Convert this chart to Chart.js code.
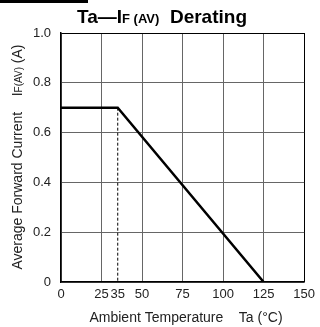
<!DOCTYPE html>
<html lang="en">
<head>
  <meta charset="UTF-8">
  <title>Ta-IF(AV) Derating</title>
  <script src="https://cdn.jsdelivr.net/npm/chart.js"></script>
  <style>
    html, body { margin: 0; padding: 0; background: #fff; }
    #wrap { width: 320px; height: 327px; position: relative; }
  </style>
</head>
<body>
  <div id="wrap"><canvas id="derating"></canvas></div>
  <script>
    // tick positions
    const xTicks = [0, 25, 35, 50, 75, 100, 125, 150];
    const yTicks = [0, 0.2, 0.4, 0.6, 0.8, 1.0];

    // derating curve: flat to 35 C, then linear to zero at 125 C
    const curveTemp = [0, 35, 125];
    const curveCurrent = [0.7, 0.7, 0];

    // dashed guide at the knee
    const kneeTemp = [35, 35];
    const kneeCurrent = [0.7, 0];

    const FONT = 'Arial, "Liberation Sans", sans-serif';

    // draw a run of text pieces (some smaller, like subscripts) centred on 0,0
    function drawPieces(ctx, pieces) {
      let total = 0;
      pieces.forEach(p => { ctx.font = p.font; p.w = ctx.measureText(p.text).width; total += p.w; });
      let x = -total / 2;
      pieces.forEach(p => {
        ctx.font = p.font;
        ctx.fillText(p.text, x, p.dy || 0);
        x += p.w;
      });
    }

    const labelsPlugin = {
      id: 'labels',
      afterDraw(chart) {
        const ctx = chart.ctx;
        ctx.save();
        ctx.fillStyle = '#000';
        ctx.fillRect(0, 0, 88, 3);

        ctx.textBaseline = 'alphabetic';
        ctx.fillStyle = '#000';
        // title
        ctx.save();
        ctx.translate(162, 23);
        drawPieces(ctx, [
          { text: 'Ta\u2014I', font: 'bold 19px ' + FONT },
          { text: 'F (AV)', font: 'bold 13px ' + FONT },
          { text: '  Derating', font: 'bold 19px ' + FONT }
        ]);
        ctx.restore();

        ctx.fillStyle = '#222';
        // x axis title
        ctx.save();
        ctx.translate(186, 322);
        drawPieces(ctx, [
          { text: 'Ambient Temperature    Ta (\u00b0C)', font: '14px ' + FONT }
        ]);
        ctx.restore();

        // y axis title
        ctx.save();
        ctx.translate(22, 157);
        ctx.rotate(-Math.PI / 2);
        drawPieces(ctx, [
          { text: 'Average Forward Current    I', font: '14px ' + FONT },
          { text: 'F(AV)', font: '10px ' + FONT },
          { text: ' (A)', font: '14px ' + FONT }
        ]);
        ctx.restore();
        ctx.restore();
      }
    };

    new Chart(document.getElementById('derating'), {
      type: 'line',
      data: {
        datasets: [
          {
            data: curveTemp.map((t, i) => ({ x: t, y: curveCurrent[i] })),
            borderColor: '#000',
            borderWidth: 2.5,
            pointRadius: 0,
            fill: false
          },
          {
            data: kneeTemp.map((t, i) => ({ x: t, y: kneeCurrent[i] })),
            borderColor: '#000',
            borderWidth: 1,
            borderDash: [3, 2],
            pointRadius: 0,
            fill: false
          }
        ]
      },
      options: {
        responsive: true,
        maintainAspectRatio: false,
        animation: false,
        layout: { padding: { top: 33, right: 10, left: 0, bottom: 0 } },
        plugins: { legend: { display: false }, tooltip: { enabled: false } },
        scales: {
          x: {
            type: 'linear',
            min: 0,
            max: 150,
            afterBuildTicks: s => { s.ticks = xTicks.map(v => ({ value: v })); },
            afterFit: s => { s.height = 45; },
            grid: {
              drawTicks: false,
              lineWidth: 1,
              color: c => c.tick.value === 35 ? 'rgba(0,0,0,0)' : (c.tick.value === 150 ? '#000' : '#666')
            },
            border: { color: '#000', width: 1.5 },
            ticks: {
              padding: 5,
              color: '#222',
              font: { family: FONT, size: 13 },
              maxRotation: 0,
              autoSkip: false,
              callback: v => String(v)
            }
          },
          y: {
            min: 0,
            max: 1,
            afterBuildTicks: s => { s.ticks = yTicks.map(v => ({ value: v })); },
            afterFit: s => { s.width = 61; },
            grid: {
              drawTicks: false,
              lineWidth: 1,
              color: c => c.tick.value === 1 ? '#000' : '#666'
            },
            border: { color: '#000', width: 1.5 },
            ticks: {
              padding: 10,
              color: '#222',
              font: { family: FONT, size: 13 },
              callback: v => v === 0 ? '0' : v.toFixed(1)
            }
          }
        }
      },
      plugins: [labelsPlugin]
    });
  </script>
</body>
</html>
